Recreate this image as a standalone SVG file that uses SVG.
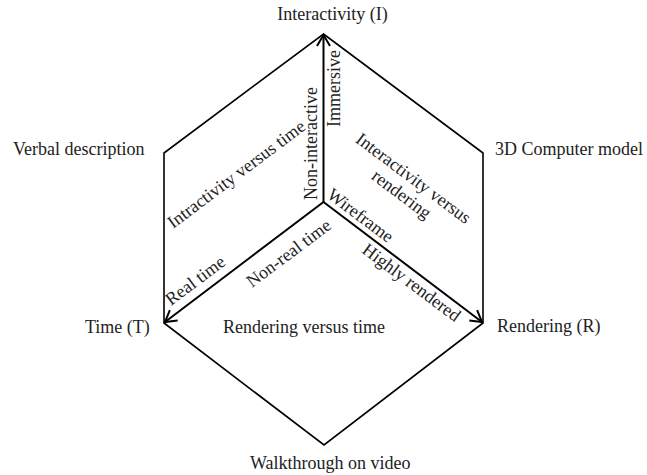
<svg xmlns="http://www.w3.org/2000/svg" width="647" height="475" viewBox="0 0 647 475">
<defs>
<marker id="arr" markerUnits="userSpaceOnUse" markerWidth="20" markerHeight="20" refX="0" refY="0" viewBox="-12 -10 14 20" orient="auto" overflow="visible">
<path d="M-11,-6.5 L0,0 L-11,6.5" fill="none" stroke="#000" stroke-width="2"/>
</marker>
<style>
text{font-family:"Liberation Serif","Times New Roman",serif;font-size:18px;fill:#222}
.edge{fill:none;stroke:#000;stroke-width:1.6}
.axis{fill:none;stroke:#000;stroke-width:2;marker-end:url(#arr)}
</style>
</defs>
<rect width="647" height="475" fill="#fff"/>
<g id="frame">
<polygon class="edge" points="323.5,34 483,153 483,323 324,445 164,323 164,153"/>
</g>
<g id="connectors">
<line class="axis" x1="323.5" y1="202" x2="323.5" y2="35"/>
<line class="axis" x1="323.5" y1="202" x2="165" y2="322"/>
<line class="axis" x1="323.5" y1="202" x2="482" y2="322"/>
</g>
<g id="interactivity"><text x="332.5" y="20" text-anchor="middle">Interactivity (I)</text></g>
<g id="verbal"><text x="13" y="155">Verbal description</text></g>
<g id="computer-model"><text x="495" y="155">3D Computer model</text></g>
<g id="time"><text x="85" y="333">Time (T)</text></g>
<g id="rendering"><text x="497" y="332">Rendering (R)</text></g>
<g id="walkthrough"><text x="250" y="469">Walkthrough on video</text></g>
<g id="rendering-vs-time"><text x="223" y="333">Rendering versus time</text></g>
<g id="immersive"><text transform="translate(340,127) rotate(-90)">Immersive</text></g>
<g id="non-interactive"><text transform="translate(317,200) rotate(-90)">Non-interactive</text></g>
<g id="interactivity-vs-time"><text transform="translate(173,229) rotate(-36.87)">Intractivity versus time</text></g>
<g id="interactivity-vs-rendering"><text transform="translate(410,183) rotate(36.87)" text-anchor="middle"><tspan x="0" y="0">Interactivity versus</tspan><tspan x="0" y="20">rendering</tspan></text></g>
<g id="wireframe"><text transform="translate(326,197) rotate(36.87)">Wireframe</text></g>
<g id="highly-rendered"><text transform="translate(361,252) rotate(36.87)">Highly rendered</text></g>
<g id="non-real-time"><text transform="translate(252,288) rotate(-36.87)">Non-real time</text></g>
<g id="real-time"><text transform="translate(171,306) rotate(-36.87)">Real time</text></g>
</svg>
